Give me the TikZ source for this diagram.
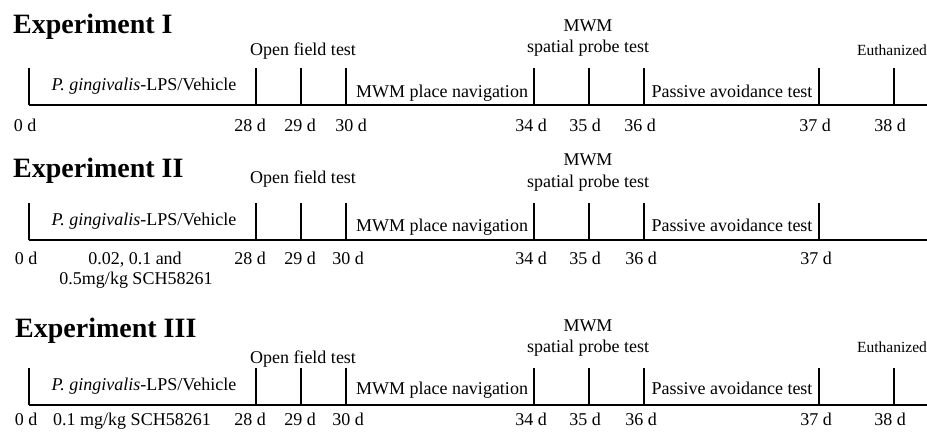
\documentclass[tikz,border=0pt]{standalone}
\usepackage{fontspec}
\setmainfont{Liberation Serif}
\usetikzlibrary{positioning}

\begin{document}
\begin{tikzpicture}[x=1pt, y=-1pt,
    exptitle/.style={font=\fontsize{28}{30}\selectfont\bfseries, anchor=base west, inner sep=0pt},
    lab/.style={font=\fontsize{18}{20}\selectfont, anchor=base, inner sep=0pt},
    small/.style={font=\fontsize{15.5}{17}\selectfont, anchor=base west, inner sep=0pt},
    axis/.style={line width=1.8pt},
    daytick/.style={line width=1.8pt}]

    \useasboundingbox (0,0) rectangle (927,434);

    % Experiment I
    \node[exptitle] (t1) at (13,33) {Experiment I};
    \begin{scope}[shift={(0,105)}]
        \foreach \n/\x in {0/29,28/256,29/301,30/346,34/534,35/589,36/644,37/819,38/894}{
            \coordinate (a\n) at (\x,0);
            \coordinate (a\n top) at (\x,-37);
            \draw[daytick] (a\n) -- (a\n top);
        }
        \coordinate (aend) at (927,0);
        \draw[axis] (a0) -- (aend);
        \foreach \n/\x in {0/25,28/250,29/300,30/351,34/531,35/585,36/640,37/815,38/890}
            \node[lab] (ad\n) at (\x,26) {\n{} d};
        \node[lab] (agin) at (144,-15) {\textit{P. gingivalis}-LPS/Vehicle};
        \node[lab] (aplace) at (442,-8) {MWM place navigation};
        \node[lab] (apass) at (732,-8) {Passive avoidance test};
        \node[lab] (aopen) at (303,-50) {Open field test};
        \node[lab] (aprobe) at (588,-53) {spatial probe test};
        \node[lab] (amwm) at (588,-74) {MWM};
        \node[small] (aeuth) at (857,-50) {Euthanized};
    \end{scope}

    % Experiment II
    \node[exptitle] (t2) at (13,177) {Experiment II};
    \begin{scope}[shift={(0,240)}]
        \foreach \n/\x in {0/29,28/256,29/301,30/346,34/534,35/589,36/644,37/819}{
            \coordinate (b\n) at (\x,0);
            \coordinate (b\n top) at (\x,-37);
            \draw[daytick] (b\n) -- (b\n top);
        }
        \coordinate (bend) at (927,0);
        \draw[axis] (b0) -- (bend);
        \foreach \n/\x in {0/26,28/250,29/300,30/348,34/531,35/585,36/641,37/816}
            \node[lab] (bd\n) at (\x,24) {\n{} d};
        \node[lab] (bdose) at (135,24) {0.02, 0.1 and};
        \node[lab] (bdose2) at (136,44) {0.5mg/kg SCH58261};
        \node[lab] (bgin) at (144,-15) {\textit{P. gingivalis}-LPS/Vehicle};
        \node[lab] (bplace) at (442,-9) {MWM place navigation};
        \node[lab] (bpass) at (732,-9) {Passive avoidance test};
        \node[lab] (bopen) at (303,-57) {Open field test};
        \node[lab] (bprobe) at (588,-53) {spatial probe test};
        \node[lab] (bmwm) at (588,-75) {MWM};
    \end{scope}

    % Experiment III
    \node[exptitle] (t3) at (15,337) {Experiment III};
    \begin{scope}[shift={(0,405)}]
        \foreach \n/\x in {0/29,28/256,29/301,30/346,34/534,35/589,36/644,37/819,38/894}{
            \coordinate (c\n) at (\x,0);
            \coordinate (c\n top) at (\x,-37);
            \draw[daytick] (c\n) -- (c\n top);
        }
        \coordinate (cend) at (927,0);
        \draw[axis] (c0) -- (cend);
        \foreach \n/\x in {0/26,28/250,29/300,30/348,34/531,35/585,36/641,37/816,38/890}
            \node[lab] (cd\n) at (\x,20) {\n{} d};
        \node[lab] (cdose) at (132,20) {0.1 mg/kg SCH58261};
        \node[lab] (cgin) at (144,-15) {\textit{P. gingivalis}-LPS/Vehicle};
        \node[lab] (cplace) at (442,-11) {MWM place navigation};
        \node[lab] (cpass) at (732,-11) {Passive avoidance test};
        \node[lab] (copen) at (303,-42) {Open field test};
        \node[lab] (cprobe) at (588,-53) {spatial probe test};
        \node[lab] (cmwm) at (588,-74) {MWM};
        \node[small] (ceuth) at (857,-53) {Euthanized};
    \end{scope}
\end{tikzpicture}
\end{document}
